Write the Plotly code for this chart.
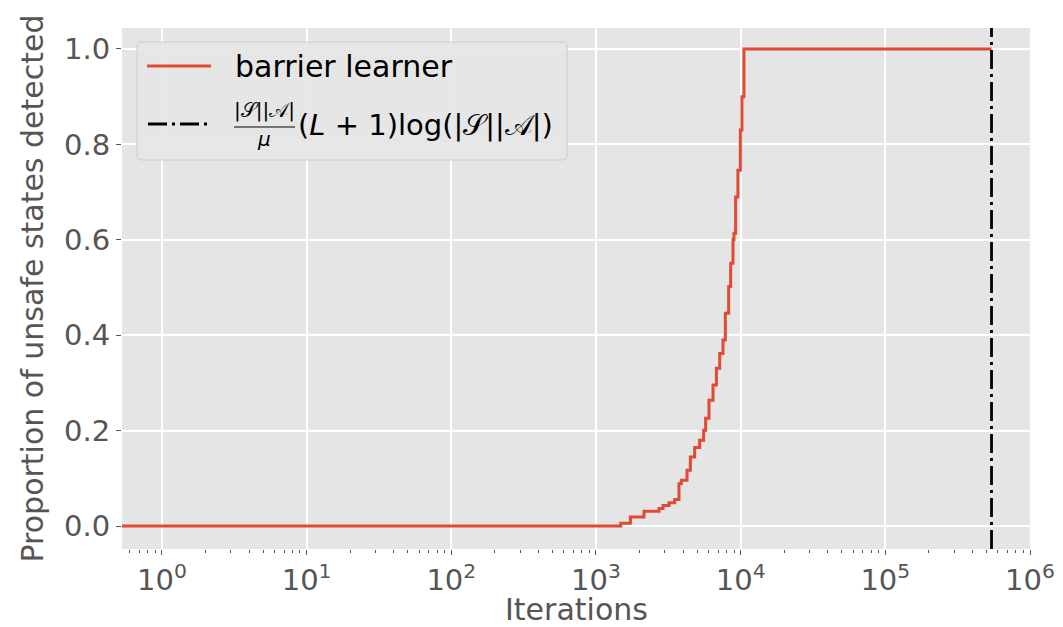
import plotly.graph_objects as go

# ---- data ----
iterations = [0.5, 1483, 1730, 2148, 2728, 2906, 3197, 3501, 3748, 3892, 4259, 4491,
              4810, 5207, 5548, 5728, 6041, 6442, 6798, 7166, 7549, 7838, 8262, 8531,
              8853, 8993, 9233, 9575, 9950, 10210, 10540, 542000]
proportion = [0.0, 0.006, 0.019, 0.031, 0.037, 0.043, 0.049, 0.056, 0.089, 0.096, 0.117, 0.145,
              0.165, 0.180, 0.201, 0.226, 0.264, 0.296, 0.331, 0.362, 0.390, 0.446, 0.502, 0.551,
              0.600, 0.614, 0.690, 0.746, 0.830, 0.900, 1.0, 1.0]
bound_iterations = 542000

series_name = "barrier learner"
bound_num = "|𝒮||𝒜|"
bound_den = "<i>μ</i>"
bound_rest = "(<i>L</i> + 1)log(|𝒮||𝒜|)"
x_title = "Iterations"
y_title = "Proportion of unsafe states detected"

x_range_log = [-0.276, 6.0]
y_range = [-0.048, 1.044]
x_tick_vals = [1, 10, 100, 1000, 10000, 100000, 1000000]
x_tick_text = ["10<sup>0</sup>", "10<sup>1</sup>", "10<sup>2</sup>", "10<sup>3</sup>",
               "10<sup>4</sup>", "10<sup>5</sup>", "10<sup>6</sup>"]
x_minor_vals = [k * 10.0 ** d for d in range(-1, 6) for k in range(2, 10)]
y_tick_vals = [0.0, 0.2, 0.4, 0.6, 0.8, 1.0]
y_tick_text = ["0.0", "0.2", "0.4", "0.6", "0.8", "1.0"]

# the page body adds an 8px offset; compensate so the plot lands where the reference has it
OFF = 8
W, H = 1063 - OFF, 627 - OFF
ML, MR, MT, MB = 122 - OFF, 33, 28 - OFF, 78
PW, PH = W - ML - MR, H - MT - MB


def px(xp):  # page pixel -> paper coordinate
    return (xp - OFF - ML) / PW


def py(yp):
    return (H - MB - (yp - OFF)) / PH


FONT = "DejaVu Sans"
TICK = "#555555"
RED = "#E24A33"

fig = go.Figure()
fig.add_trace(go.Scatter(x=iterations, y=proportion, mode="lines", line_shape="hv",
                         line=dict(color=RED, width=3), name=series_name, showlegend=False))
fig.add_trace(go.Scatter(x=[bound_iterations, bound_iterations], y=y_range, mode="lines",
                         line=dict(color="black", width=2.8, dash="19px,5px,3px,5px"),
                         name="bound", showlegend=False))

# legend (drawn manually to render the fraction)
lx0, lx1, ly0, ly1, r = 137, 567, 42, 160, 5
rx, ry = r / PW, r / PH
X0, X1, Y0, Y1 = px(lx0), px(lx1), py(ly1), py(ly0)
path = (f"M {X0+rx},{Y0} L {X1-rx},{Y0} Q {X1},{Y0} {X1},{Y0+ry} L {X1},{Y1-ry} "
        f"Q {X1},{Y1} {X1-rx},{Y1} L {X0+rx},{Y1} Q {X0},{Y1} {X0},{Y1-ry} "
        f"L {X0},{Y0+ry} Q {X0},{Y0} {X0+rx},{Y0} Z")
shapes = [
    dict(type="path", xref="paper", yref="paper", path=path,
         fillcolor="rgba(229,229,229,0.9)", line=dict(color="#CCCCCC", width=1)),
    dict(type="line", xref="paper", yref="paper", x0=px(147), x1=px(211), y0=py(66), y1=py(66),
         line=dict(color=RED, width=3)),
    dict(type="line", xref="paper", yref="paper", x0=px(148), x1=px(211), y0=py(124), y1=py(124),
         line=dict(color="black", width=2.8, dash="19px,5px,3px,5px")),
    dict(type="line", xref="paper", yref="paper", x0=px(234), x1=px(295), y0=py(127), y1=py(127),
         line=dict(color="black", width=1.2)),
]
annotations = [
    dict(text=series_name, xref="paper", yref="paper", x=px(233), y=py(66), xanchor="left",
         yanchor="middle", showarrow=False, font=dict(family=FONT, size=30, color="black")),
    dict(text=bound_num, xref="paper", yref="paper", x=px(264), y=py(110), xanchor="center",
         yanchor="middle", showarrow=False, font=dict(family=FONT, size=20, color="black")),
    dict(text=bound_den, xref="paper", yref="paper", x=px(264), y=py(139), xanchor="center",
         yanchor="middle", showarrow=False, font=dict(family=FONT, size=20, color="black")),
    dict(text=bound_rest, xref="paper", yref="paper", x=px(296), y=py(125), xanchor="left",
         yanchor="middle", showarrow=False, font=dict(family=FONT, size=29, color="black")),
    dict(text=x_title, xref="paper", yref="paper", x=0.5, y=py(609), xanchor="center",
         yanchor="middle", showarrow=False, borderpad=0,
         font=dict(family=FONT, size=30, color=TICK)),
]

fig.update_layout(
    width=W, height=H,
    margin=dict(l=ML, r=MR, t=MT, b=MB),
    paper_bgcolor="white", plot_bgcolor="#E5E5E5",
    font=dict(family=FONT, color=TICK),
    shapes=shapes, annotations=annotations, showlegend=False,
)
fig.update_xaxes(
    type="log", range=x_range_log, tickvals=x_tick_vals, ticktext=x_tick_text,
    ticks="outside", ticklen=5, tickwidth=1.2, tickcolor=TICK,
    showgrid=True, gridcolor="white", gridwidth=1.6, zeroline=False, showline=False,
    tickfont=dict(family=FONT, size=29, color=TICK),
    minor=dict(tickvals=x_minor_vals, ticks="outside", ticklen=3, tickwidth=1, tickcolor=TICK,
               showgrid=False),
    automargin=False,
)
fig.update_yaxes(
    range=y_range, tickvals=y_tick_vals, ticktext=y_tick_text,
    ticks="outside", ticklen=5, tickwidth=1.2, tickcolor=TICK,
    showgrid=True, gridcolor="white", gridwidth=1.6, zeroline=False, showline=False,
    tickfont=dict(family=FONT, size=29, color=TICK),
    title=dict(text=y_title, font=dict(family=FONT, size=30, color=TICK), standoff=11),
    automargin=False,
)

fig.write_html("out.html")
